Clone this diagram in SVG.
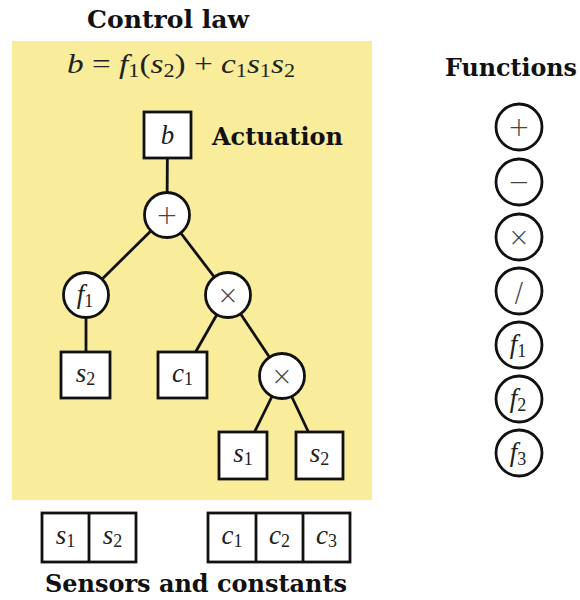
<svg xmlns="http://www.w3.org/2000/svg" width="580" height="600" viewBox="0 0 580 600">
<style>
.title{font-family:"DejaVu Serif","Liberation Serif",serif;font-weight:bold;font-size:24px;fill:#111}
.node{fill:#fff;stroke:#111;stroke-width:2.8}
.edge{stroke:#111;stroke-width:2.8;fill:none}
.m{font-family:"Liberation Serif","DejaVu Serif",serif;font-style:italic;font-size:27px;fill:#222;text-anchor:middle}
.u{font-style:normal}
.sub{font-style:normal;font-size:18px}
.op{font-family:"DejaVu Sans","Liberation Sans",sans-serif;font-weight:300;font-size:26px;fill:#444;text-anchor:middle}
</style>
<rect x="12" y="41" width="360" height="459" fill="#f9ed9c"/>
<text class="title" x="168" y="28" text-anchor="middle" textLength="162" lengthAdjust="spacingAndGlyphs">Control law</text>
<text class="title" x="511" y="76" text-anchor="middle" textLength="132" lengthAdjust="spacingAndGlyphs">Functions</text>
<text class="title" x="196" y="592" text-anchor="middle" textLength="302" lengthAdjust="spacingAndGlyphs">Sensors and constants</text>
<text class="title" x="212" y="145" textLength="131" lengthAdjust="spacingAndGlyphs">Actuation</text>
<text class="m" x="181" y="73" font-size="26" textLength="228" lengthAdjust="spacingAndGlyphs">b<tspan class="u"> = </tspan>f<tspan class="sub" dy="4">1</tspan><tspan class="u" dy="-4">(</tspan>s<tspan class="sub" dy="4">2</tspan><tspan class="u" dy="-4">) + </tspan>c<tspan class="sub" dy="4">1</tspan><tspan dy="-4">s</tspan><tspan class="sub" dy="4">1</tspan><tspan dy="-4">s</tspan><tspan class="sub" dy="4">2</tspan></text>
<g id="connectors">
<line class="edge" x1="167.5" y1="135" x2="167" y2="215"/>
<line class="edge" x1="167" y1="215" x2="86" y2="295"/>
<line class="edge" x1="167" y1="215" x2="228" y2="295"/>
<line class="edge" x1="86" y1="295" x2="86" y2="375"/>
<line class="edge" x1="228" y1="295" x2="182.5" y2="375"/>
<line class="edge" x1="228" y1="295" x2="282" y2="376"/>
<line class="edge" x1="282" y1="376" x2="243" y2="455.5"/>
<line class="edge" x1="282" y1="376" x2="319.5" y2="455.5"/>
</g>
<g id="node-b"><rect class="node" x="144" y="112" width="47" height="46"/><text class="m" x="167.5" y="144">b</text></g>
<g id="node-plus"><circle class="node" cx="167" cy="215" r="22.5"/><text class="op" x="167" y="224">+</text></g>
<g id="node-f1"><circle class="node" cx="86" cy="295" r="22.5"/><text class="m" x="85" y="303">f<tspan class="sub" dy="4">1</tspan></text></g>
<g id="node-times1"><circle class="node" cx="228" cy="295" r="22.5"/><text class="op" x="228" y="304">×</text></g>
<g id="node-s2a"><rect class="node" x="61" y="352" width="49" height="46"/><text class="m" x="85.5" y="382">s<tspan class="sub" dy="3">2</tspan></text></g>
<g id="node-c1"><rect class="node" x="158" y="352" width="49" height="46"/><text class="m" x="182.5" y="382">c<tspan class="sub" dy="3">1</tspan></text></g>
<g id="node-times2"><circle class="node" cx="282" cy="376" r="22.5"/><text class="op" x="282" y="385">×</text></g>
<g id="node-s1"><rect class="node" x="219" y="432" width="48" height="47"/><text class="m" x="243" y="462">s<tspan class="sub" dy="3">1</tspan></text></g>
<g id="node-s2b"><rect class="node" x="296" y="432" width="47" height="47"/><text class="m" x="319.5" y="462">s<tspan class="sub" dy="3">2</tspan></text></g>
<g id="sensors">
<rect class="node" x="42" y="513" width="94" height="49"/>
<line class="edge" x1="89" y1="513" x2="89" y2="562"/>
<text class="m" x="65.5" y="544">s<tspan class="sub" dy="3">1</tspan></text>
<text class="m" x="112.5" y="544">s<tspan class="sub" dy="3">2</tspan></text>
</g>
<g id="constants">
<rect class="node" x="208" y="513" width="142" height="49"/>
<line class="edge" x1="256" y1="513" x2="256" y2="562"/>
<line class="edge" x1="303" y1="513" x2="303" y2="562"/>
<text class="m" x="232" y="544">c<tspan class="sub" dy="3">1</tspan></text>
<text class="m" x="279.5" y="544">c<tspan class="sub" dy="3">2</tspan></text>
<text class="m" x="326.5" y="544">c<tspan class="sub" dy="3">3</tspan></text>
</g>
<g id="functions">
<g id="fn-plus"><circle class="node" cx="519" cy="127" r="23"/><text class="op" x="519" y="136">+</text></g>
<g id="fn-minus"><circle class="node" cx="519" cy="182" r="23"/><text class="op" x="519" y="191">−</text></g>
<g id="fn-times"><circle class="node" cx="519" cy="237" r="23"/><text class="op" x="519" y="246">×</text></g>
<g id="fn-div"><circle class="node" cx="519" cy="291" r="23"/><text class="op" x="519" y="302" font-size="34">/</text></g>
<g id="fn-f1"><circle class="node" cx="519" cy="345" r="23"/><text class="m" x="518" y="353">f<tspan class="sub" dy="4">1</tspan></text></g>
<g id="fn-f2"><circle class="node" cx="519" cy="399" r="23"/><text class="m" x="518" y="407">f<tspan class="sub" dy="4">2</tspan></text></g>
<g id="fn-f3"><circle class="node" cx="519" cy="453" r="23"/><text class="m" x="518" y="461">f<tspan class="sub" dy="4">3</tspan></text></g>
</g>
</svg>
